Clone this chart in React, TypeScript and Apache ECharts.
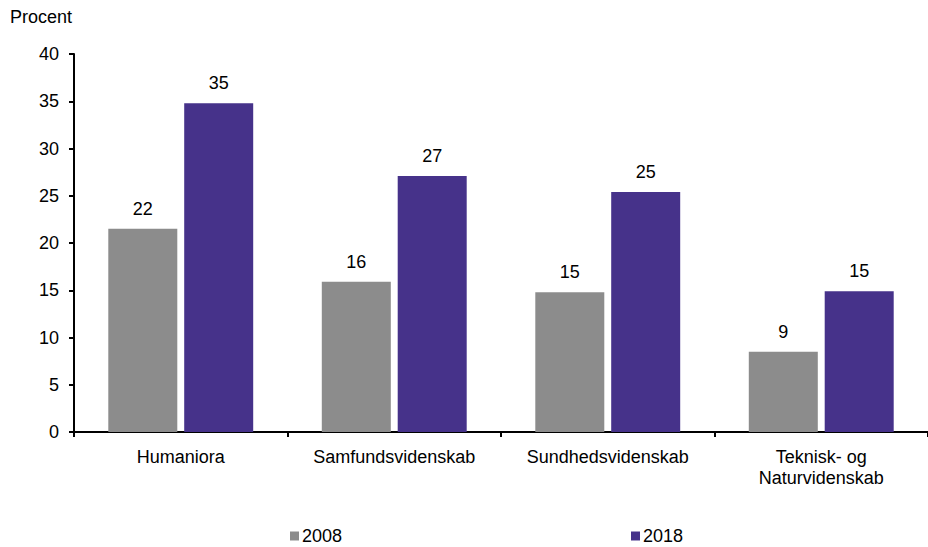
import React, { useEffect, useRef } from "react";
import * as echarts from "echarts";

const categories = ["Humaniora", "Samfundsvidenskab", "Sundhedsvidenskab", "Teknisk- og\nNaturvidenskab"];
const values2008 = [21.5, 15.9, 14.8, 8.5];
const values2018 = [34.8, 27.1, 25.4, 14.9];
const seriesNames = ["2008", "2018"];
const colors = ["#8c8c8c", "#46328a"];

const FONT = "'Liberation Sans', Arial, sans-serif";
const FS = 18;

export default function App() {
  const ref = useRef<HTMLDivElement>(null);

  useEffect(() => {
    if (!ref.current) return;
    const chart = echarts.init(ref.current, undefined, { renderer: "svg" });
    const label = {
      show: true,
      position: "top",
      distance: 11,
      color: "#000",
      fontSize: FS,
      fontFamily: FONT,
      formatter: (p: any) => String(Math.round(p.value)),
    };
    const legendText = { fontSize: FS, lineHeight: 18, color: "#000", fontFamily: FONT, padding: [0, 0, 0, -2] };
    const legendBase = {
      top: 527,
      padding: 0,
      icon: "rect",
      itemWidth: 9,
      itemHeight: 9,
      textStyle: legendText,
    };
    chart.setOption({
      animation: false,
      textStyle: { fontFamily: FONT },
      grid: { left: 74, top: 54, width: 862, height: 378, containLabel: false },
      legend: [
        { ...legendBase, data: [seriesNames[0]], left: 290 },
        { ...legendBase, data: [seriesNames[1]], left: 631 },
      ],
      graphic: [
        {
          type: "text",
          left: 10,
          top: 8,
          style: { text: "Procent", fill: "#000", font: `${FS}px ${FONT}` },
        },
      ],
      xAxis: {
        type: "category",
        data: categories,
        axisLine: { lineStyle: { color: "#000", width: 2 } },
        axisTick: { show: true, length: 5, lineStyle: { color: "#000", width: 2 } },
        axisLabel: { color: "#000", fontSize: FS, fontFamily: FONT, margin: 14, lineHeight: 21, interval: 0 },
      },
      yAxis: {
        type: "value",
        min: 0,
        max: 40,
        interval: 5,
        splitLine: { show: false },
        axisLine: { show: true, lineStyle: { color: "#000", width: 2 } },
        axisTick: { show: true, length: 5, lineStyle: { color: "#000", width: 2 } },
        axisLabel: { color: "#000", fontSize: FS, fontFamily: FONT, margin: 15 },
      },
      series: [
        {
          name: seriesNames[0],
          type: "bar",
          data: values2008,
          barWidth: 69,
          barGap: "10%",
          itemStyle: { color: colors[0] },
          label,
        },
        {
          name: seriesNames[1],
          type: "bar",
          data: values2018,
          barWidth: 69,
          barGap: "10%",
          itemStyle: { color: colors[1] },
          label,
        },
      ],
    });
    return () => chart.dispose();
  }, []);

  return (
    <div
      ref={ref}
      style={{ position: "fixed", left: 0, top: 0, width: 928, height: 547, overflow: "hidden", background: "#fff" }}
    />
  );
}
